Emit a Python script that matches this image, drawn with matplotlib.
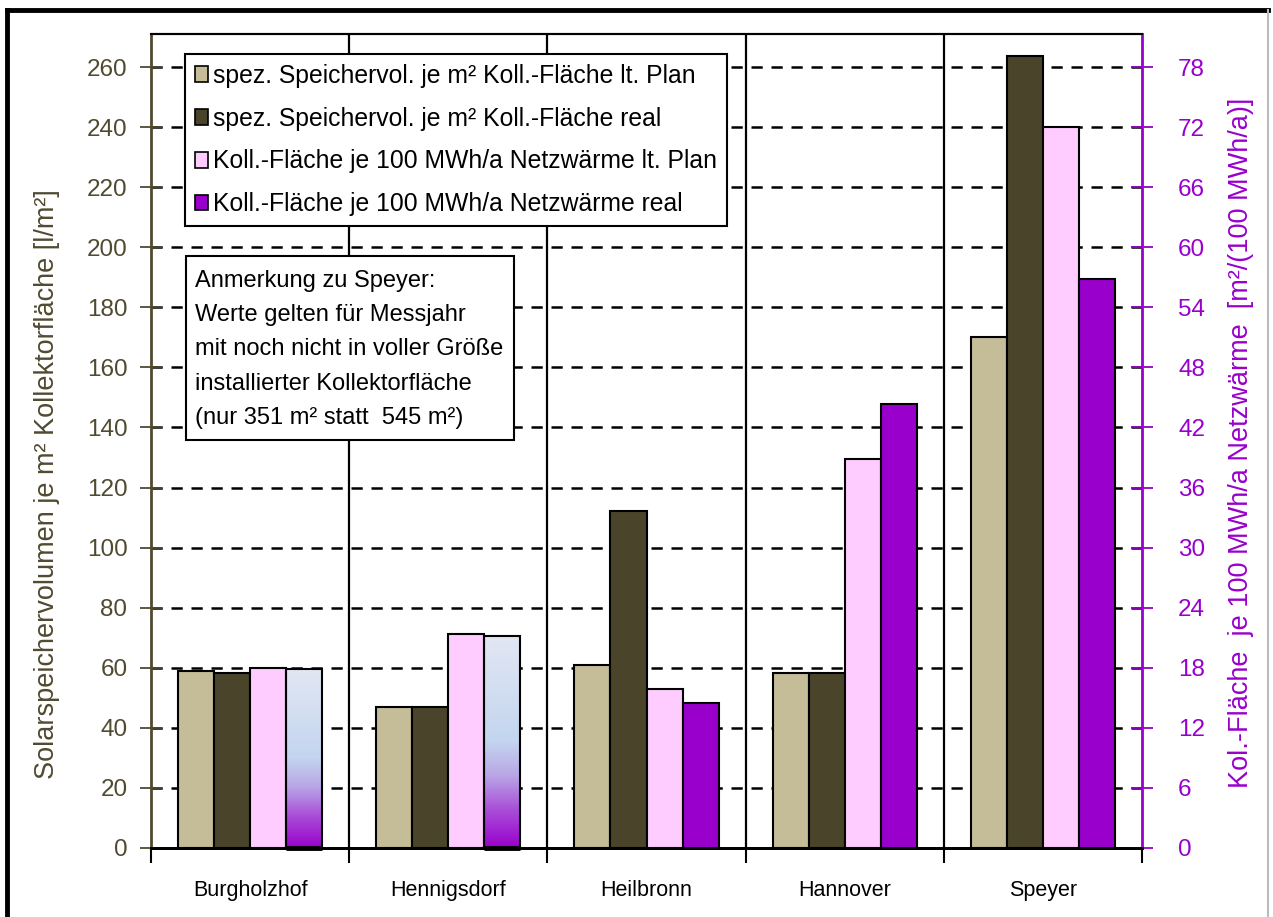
import numpy as np
import matplotlib
matplotlib.use("Agg")
import matplotlib.pyplot as plt
from matplotlib.colors import LinearSegmentedColormap
from matplotlib.lines import Line2D
from matplotlib.patches import Patch, Rectangle

# ---------------- data ----------------
categories = ["Burgholzhof", "Hennigsdorf", "Heilbronn", "Hannover", "Speyer"]
speicher_plan = [59.0, 46.9, 60.9, 58.3, 170.2]      # l/m² (left axis)
speicher_real = [58.1, 46.9, 112.3, 58.3, 263.6]     # l/m² (left axis)
flaeche_plan = [18.0, 21.4, 15.9, 38.9, 72.0]        # m²/(100 MWh/a) (right axis)
flaeche_real = [17.9, 21.2, 14.5, 44.3, 56.8]        # m²/(100 MWh/a) (right axis)
gradient_bars = [0, 1]                               # real-area bars shown with gradient fill
left_ticks = list(range(0, 261, 20))
right_ticks = list(range(0, 79, 6))
series_labels = [
    "spez. Speichervol. je m² Koll.-Fläche lt. Plan",
    "spez. Speichervol. je m² Koll.-Fläche real",
    "Koll.-Fläche je 100 MWh/a Netzwärme lt. Plan",
    "Koll.-Fläche je 100 MWh/a Netzwärme real",
]
note_text = ("Anmerkung zu Speyer:\nWerte gelten für Messjahr\nmit noch nicht in voller Größe\n"
             "installierter Kollektorfläche\n(nur 351 m² statt  545 m²)")
ylabel_left = "Solarspeichervolumen je m² Kollektorfläche [l/m²]"
ylabel_right = "Kol.-Fläche  je 100 MWh/a Netzwärme  [m²/(100 MWh/a)]"

# ---------------- style ----------------
FAM = ["Liberation Sans", "DejaVu Sans"]
plt.rcParams["font.family"] = FAM
C_TAN = "#C4BD97"
C_DARK = "#4A452A"
C_PINK = "#FFCCFF"
C_PURP = "#9900CC"
C_OLIVE = "#4F4A30"

W, H = 1273, 917
fig = plt.figure(figsize=(W / 100, H / 100), dpi=100)
L, R, T, B = 151, 1142, 34, 848
ax = fig.add_axes([L / W, (H - B) / H, (R - L) / W, (B - T) / H])
ax2 = ax.twinx()


def ax_x(px):
    return (px - L) / (R - L)


def ax_y(py):
    return (B - py) / (B - T)


ymax_left = 271.0
ax.set_ylim(0, ymax_left)
ax2.set_ylim(0, ymax_left * 0.3)
ax.set_xlim(-0.5, len(categories) - 0.5)

x = np.arange(len(categories))
bw = 0.182
offs = np.array([-1.5, -0.5, 0.5, 1.5]) * bw

ekw = dict(edgecolor="black", linewidth=1.5, zorder=3)
ax.bar(x + offs[0], speicher_plan, bw, color=C_TAN, **ekw)
ax.bar(x + offs[1], speicher_real, bw, color=C_DARK, **ekw)
ax2.bar(x + offs[2], flaeche_plan, bw, color=C_PINK, **ekw)
bars_real = ax2.bar(x + offs[3], flaeche_real, bw, color=C_PURP, **ekw)

# gradient fill for selected bars
cmap = LinearSegmentedColormap.from_list(
    "grad", [(0.0, C_PURP), (0.18, "#A94FD8"), (0.34, "#B9A6E6"), (0.5, "#C3D5EF"), (1.0, "#E2E7F3")])
grad = np.linspace(0, 1, 256).reshape(-1, 1)
for i in gradient_bars:
    b = bars_real[i]
    b.set_facecolor("none")
    x0, w_, h_ = b.get_x(), b.get_width(), b.get_height()
    im = ax2.imshow(grad, cmap=cmap, origin="lower", aspect="auto",
                    extent=[x0, x0 + w_, 0, h_], zorder=2.9, interpolation="bilinear")
    im.set_clip_path(b)
    ax2.plot([x0, x0 + w_], [0, 0], color="black", lw=3.5, zorder=3.5, clip_on=False,
             solid_capstyle="butt")
ax2.set_xlim(-0.5, len(categories) - 0.5)

# grid & separators
for v in left_ticks[1:]:
    ax.axhline(v, color="black", lw=1.8, ls=(0, (4.5, 3.5)), zorder=1)
for s in np.arange(0.5, len(categories) - 0.5, 1):
    ax.axvline(s, color="black", lw=1.6, zorder=1)

# axes styling
ax.set_yticks(left_ticks)
ax.set_yticklabels([str(t) for t in left_ticks], fontsize=17.5, color=C_OLIVE)
ax.tick_params(axis="y", direction="inout", length=16, width=1.3, color=C_OLIVE, pad=9)
ax2.set_yticks(right_ticks)
ax2.set_yticklabels([str(t) for t in right_ticks], fontsize=17.5, color=C_PURP)
ax2.tick_params(axis="y", direction="inout", length=16, width=1.3, color=C_PURP, pad=18)

ax.set_xticks(np.arange(-0.5, len(categories), 1))
ax.set_xticklabels([])
ax.tick_params(axis="x", which="major", direction="out", length=11, width=1.5, color="black")
ax.set_xticks(x, minor=True)
ax.set_xticklabels(categories, minor=True, fontsize=15.5, color="black")
ax.tick_params(axis="x", which="minor", length=0, pad=23)
ax2.tick_params(axis="x", which="both", length=0)

for a in (ax, ax2):
    a.spines["top"].set_color("black")
    a.spines["top"].set_linewidth(1.5)
    a.spines["bottom"].set_color("black")
    a.spines["bottom"].set_linewidth(2.0)
ax.spines["left"].set_color(C_OLIVE)
ax.spines["left"].set_linewidth(2.0)
ax2.spines["left"].set_visible(False)
ax2.spines["right"].set_color(C_PURP)
ax2.spines["right"].set_linewidth(2.0)
ax.spines["right"].set_visible(False)

ax.set_ylabel(ylabel_left, fontsize=19.5, color=C_OLIVE)
ax.yaxis.set_label_coords(ax_x(60), ax_y(484))
ax2.set_ylabel(ylabel_right, fontsize=19.5, color=C_PURP)
ax2.yaxis.set_label_coords(ax_x(1228), ax_y(443))

# legend
handles = [Patch(facecolor=c, edgecolor="black", linewidth=1.2)
           for c in (C_TAN, C_DARK, C_PINK, C_PURP)]
leg = ax2.legend(handles, series_labels, loc="upper left",
                 bbox_to_anchor=(ax_x(185), ax_y(54)),
                 fontsize=17.8, frameon=True, fancybox=False, framealpha=1,
                 edgecolor="black", borderaxespad=0, handlelength=0.55, handleheight=0.6,
                 handletextpad=0.18, labelspacing=0.76, borderpad=0.4)
leg.get_frame().set_linewidth(1.5)
leg.set_zorder(10)

# note box
ax2.add_patch(Rectangle((ax_x(186), ax_y(440)), ax_x(514) - ax_x(186), ax_y(256) - ax_y(440),
                        transform=ax2.transAxes, facecolor="white", edgecolor="black",
                        linewidth=1.5, zorder=9))
ax2.text(ax_x(195), ax_y(270), note_text, transform=ax2.transAxes,
         fontsize=17, va="top", ha="left", linespacing=1.72, zorder=10)

# outer frame
fig.add_artist(Line2D([7 / W, 7 / W], [0, 1 - 10 / H], color="black", lw=3.5, transform=fig.transFigure))
fig.add_artist(Line2D([7 / W, 1268 / W], [1 - 10 / H, 1 - 10 / H], color="black", lw=3.5,
                      transform=fig.transFigure))
fig.add_artist(Line2D([1268 / W, 1268 / W], [0, 1 - 10 / H], color="#BBBBBB", lw=1.5,
                      transform=fig.transFigure))

fig.savefig("out.png", dpi=100)
